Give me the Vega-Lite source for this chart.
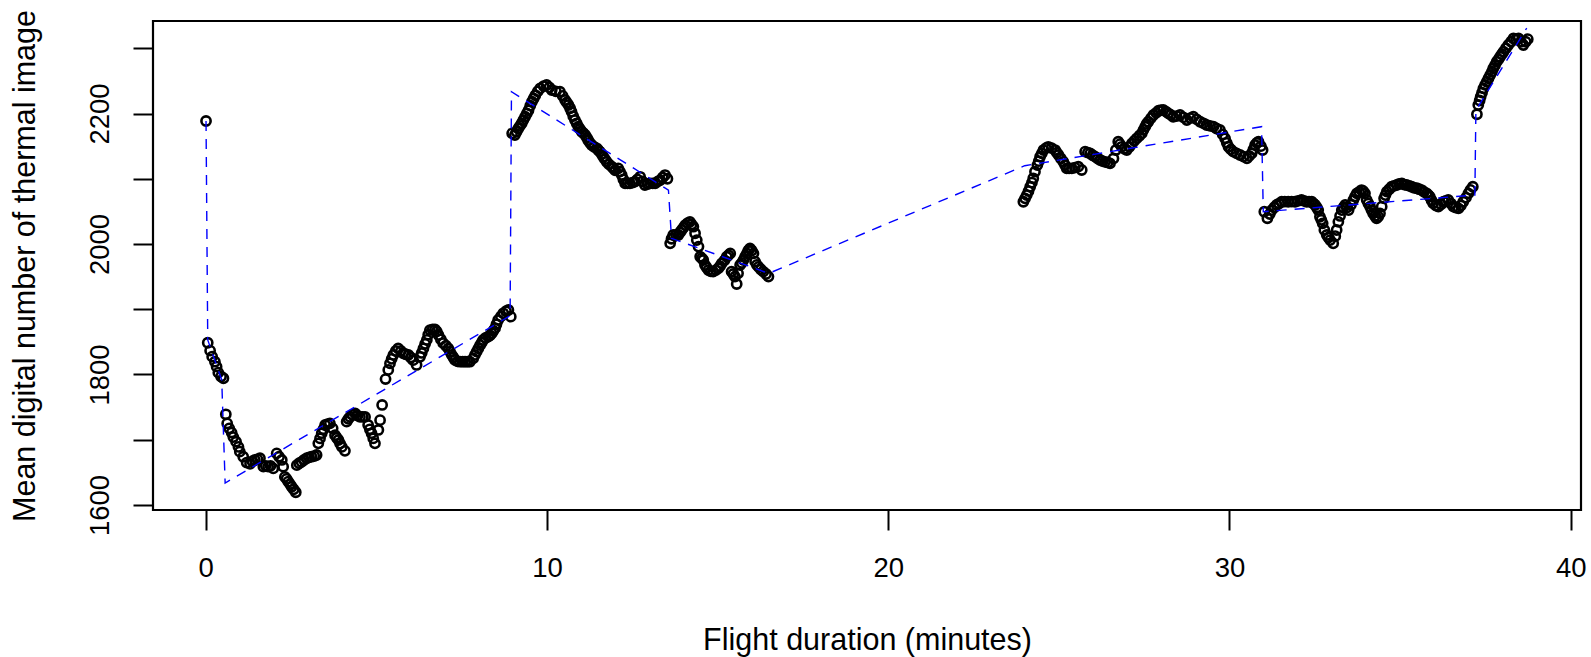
{
  "$schema": "https://vega.github.io/schema/vega-lite/v6.json",
  "autosize": {"type": "none"},
  "width": 1428,
  "height": 489,
  "padding": {"left": 153, "top": 21, "right": 10, "bottom": 147},
  "background": "white",
  "config": {
    "font": "Liberation Sans",
    "view": {"stroke": "black", "strokeWidth": 2.2},
    "axis": {"grid": false, "domain": false, "tickColor": "black", "tickWidth": 2, "tickSize": 20, "labelColor": "black", "titleColor": "black", "labelFont": "Liberation Sans", "titleFont": "Liberation Sans", "labelFontSize": 27.5, "titleFontSize": 30.5, "titleFontWeight": "normal"}
  },
  "datasets": {
    "pts": [
      {"x":0.01,"y":2188.5},{"x":0.06,"y":1848.7},{"x":0.13,"y":1836.5},{"x":0.19,"y":1827.3},{"x":0.27,"y":1819.6},{"x":0.32,"y":1812},{"x":0.37,"y":1802.8},{"x":0.45,"y":1797},{"x":0.52,"y":1794.2},
      {"x":0.59,"y":1739},{"x":0.63,"y":1725},{"x":0.69,"y":1717.5},{"x":0.76,"y":1711},{"x":0.81,"y":1704},{"x":0.89,"y":1697},{"x":0.96,"y":1689},{"x":1.0,"y":1681.7},{"x":1.1,"y":1674},{"x":1.2,"y":1665},{"x":1.3,"y":1663},{"x":1.37,"y":1667},{"x":1.44,"y":1669},{"x":1.52,"y":1670},{"x":1.59,"y":1671.6},{"x":1.69,"y":1658.7},{"x":1.76,"y":1660},{"x":1.83,"y":1658.7},{"x":1.9,"y":1660},{"x":1.98,"y":1656},{"x":2.08,"y":1679},{"x":2.15,"y":1674},{"x":2.23,"y":1669},{"x":2.27,"y":1658.7},{"x":2.32,"y":1643},{"x":2.37,"y":1640},{"x":2.42,"y":1635.7},{"x":2.47,"y":1632},{"x":2.52,"y":1628},{"x":2.58,"y":1624},{"x":2.64,"y":1619.5},
      {"x":2.67,"y":1661},{"x":2.74,"y":1664},{"x":2.81,"y":1666},{"x":2.88,"y":1669},{"x":2.96,"y":1671.6},{"x":3.03,"y":1673},{"x":3.1,"y":1674},{"x":3.18,"y":1675},{"x":3.25,"y":1676.6},{"x":3.3,"y":1694.5},{"x":3.35,"y":1702},{"x":3.4,"y":1710},{"x":3.45,"y":1716},{"x":3.5,"y":1722.6},{"x":3.57,"y":1724},{"x":3.64,"y":1725},{"x":3.72,"y":1717.5},{"x":3.79,"y":1707},{"x":3.84,"y":1703},{"x":3.89,"y":1699.6},{"x":3.94,"y":1694},{"x":3.99,"y":1689},{"x":4.08,"y":1683},{"x":4.13,"y":1727.7},{"x":4.18,"y":1732},{"x":4.23,"y":1735},{"x":4.3,"y":1738},{"x":4.38,"y":1740.5},{"x":4.45,"y":1737},{"x":4.52,"y":1735},{"x":4.6,"y":1735},{"x":4.67,"y":1735},{"x":4.76,"y":1722.6},{"x":4.81,"y":1716},{"x":4.86,"y":1710},{"x":4.91,"y":1702},{"x":4.96,"y":1694.5},{"x":5.06,"y":1715},{"x":5.11,"y":1730},{"x":5.17,"y":1753.3},
      {"x":5.27,"y":1793},{"x":5.35,"y":1807},{"x":5.4,"y":1817},{"x":5.45,"y":1824},{"x":5.5,"y":1830},{"x":5.57,"y":1836},{"x":5.64,"y":1840},{"x":5.72,"y":1836},{"x":5.79,"y":1832.5},{"x":5.86,"y":1831},{"x":5.94,"y":1830},{"x":6.01,"y":1826},{"x":6.08,"y":1822},{"x":6.18,"y":1814.6},{"x":6.28,"y":1827},{"x":6.33,"y":1833},{"x":6.38,"y":1840},{"x":6.43,"y":1847},{"x":6.48,"y":1853},{"x":6.52,"y":1861},{"x":6.57,"y":1868},{"x":6.65,"y":1869},{"x":6.72,"y":1869},{"x":6.77,"y":1866},{"x":6.82,"y":1860.5},{"x":6.89,"y":1854},{"x":6.96,"y":1848},{"x":7.04,"y":1844},{"x":7.11,"y":1840},{"x":7.16,"y":1835},{"x":7.21,"y":1830},{"x":7.26,"y":1826},{"x":7.31,"y":1822},{"x":7.38,"y":1820},{"x":7.45,"y":1819.6},{"x":7.53,"y":1819.6},{"x":7.6,"y":1819.6},{"x":7.67,"y":1819.6},{"x":7.74,"y":1819.6},{"x":7.84,"y":1824.8},{"x":7.89,"y":1830},{"x":7.94,"y":1835},{"x":7.99,"y":1840},{"x":8.04,"y":1845},{"x":8.09,"y":1849},{"x":8.13,"y":1853},{"x":8.2,"y":1856},{"x":8.28,"y":1858},{"x":8.33,"y":1860},{"x":8.38,"y":1863},{"x":8.43,"y":1867},{"x":8.48,"y":1871},{"x":8.52,"y":1877},{"x":8.57,"y":1883.5},{"x":8.65,"y":1889},{"x":8.72,"y":1893.8},{"x":8.8,"y":1897},{"x":8.87,"y":1898.9},{"x":8.94,"y":1888.6},
      {"x":8.98,"y":2169.6},{"x":9.06,"y":2167},{"x":9.11,"y":2172},{"x":9.16,"y":2177},{"x":9.21,"y":2181},{"x":9.26,"y":2185},{"x":9.31,"y":2190},{"x":9.36,"y":2195},{"x":9.41,"y":2200},{"x":9.46,"y":2205},{"x":9.51,"y":2212},{"x":9.56,"y":2218},{"x":9.61,"y":2223},{"x":9.66,"y":2228},{"x":9.73,"y":2234},{"x":9.8,"y":2238.6},{"x":9.9,"y":2242},{"x":9.99,"y":2243.7},{"x":10.07,"y":2240},{"x":10.14,"y":2236},{"x":10.26,"y":2234},{"x":10.38,"y":2233.4},{"x":10.46,"y":2227},{"x":10.53,"y":2220.7},{"x":10.58,"y":2217},{"x":10.63,"y":2213},{"x":10.68,"y":2208},{"x":10.72,"y":2202.8},{"x":10.77,"y":2196},{"x":10.82,"y":2190},{"x":10.87,"y":2185},{"x":10.92,"y":2179.8},{"x":10.97,"y":2176},{"x":11.02,"y":2172},{"x":11.07,"y":2170},{"x":11.12,"y":2167},{"x":11.17,"y":2163},{"x":11.21,"y":2159},{"x":11.26,"y":2155},{"x":11.31,"y":2151.7},{"x":11.38,"y":2149},{"x":11.46,"y":2146.7},{"x":11.5,"y":2144},{"x":11.55,"y":2141.5},{"x":11.6,"y":2138},{"x":11.65,"y":2133.8},{"x":11.7,"y":2130},{"x":11.75,"y":2126},{"x":11.82,"y":2122},{"x":11.9,"y":2118.5},{"x":11.95,"y":2116},{"x":12.0,"y":2113},{"x":12.09,"y":2116},{"x":12.14,"y":2111},{"x":12.19,"y":2105.7},{"x":12.24,"y":2099},{"x":12.29,"y":2093},{"x":12.36,"y":2093},{"x":12.43,"y":2093},{"x":12.51,"y":2094},{"x":12.58,"y":2095.5},{"x":12.65,"y":2099},{"x":12.73,"y":2103},{"x":12.8,"y":2096},{"x":12.87,"y":2090.4},{"x":12.95,"y":2092},{"x":13.02,"y":2093},{"x":13.1,"y":2093},{"x":13.17,"y":2093},{"x":13.25,"y":2096},{"x":13.32,"y":2098},{"x":13.39,"y":2102},{"x":13.46,"y":2105.7},{"x":13.53,"y":2100},
      {"x":13.61,"y":2001},{"x":13.65,"y":2008},{"x":13.7,"y":2013.8},{"x":13.78,"y":2014},{"x":13.85,"y":2013.8},{"x":13.9,"y":2018},{"x":13.95,"y":2021.5},{"x":14.0,"y":2025},{"x":14.05,"y":2029},{"x":14.12,"y":2032},{"x":14.19,"y":2034},{"x":14.24,"y":2030},{"x":14.29,"y":2026.5},{"x":14.34,"y":2016.4},{"x":14.39,"y":2006},{"x":14.44,"y":1996},{"x":14.49,"y":1980.5},{"x":14.54,"y":1978},{"x":14.58,"y":1975.5},{"x":14.63,"y":1967.8},{"x":14.68,"y":1964},{"x":14.73,"y":1960},{"x":14.8,"y":1958},{"x":14.87,"y":1957.6},{"x":14.95,"y":1960},{"x":15.02,"y":1962.7},{"x":15.07,"y":1966},{"x":15.12,"y":1970.4},{"x":15.2,"y":1975},{"x":15.27,"y":1980.5},{"x":15.32,"y":1983},{"x":15.37,"y":1985.7},{"x":15.41,"y":1957.6},{"x":15.46,"y":1954},{"x":15.51,"y":1950},{"x":15.56,"y":1938.7},{"x":15.6,"y":1955},{"x":15.66,"y":1967.8},{"x":15.71,"y":1971},{"x":15.76,"y":1975.5},{"x":15.81,"y":1981},{"x":15.86,"y":1985.7},{"x":15.9,"y":1990},{"x":15.95,"y":1993.3},{"x":16.0,"y":1990},{"x":16.05,"y":1985.7},{"x":16.1,"y":1973},{"x":16.15,"y":1968},{"x":16.2,"y":1965},{"x":16.27,"y":1961},{"x":16.34,"y":1957.6},{"x":16.42,"y":1954},{"x":16.49,"y":1950},
      {"x":23.96,"y":2064.8},{"x":24.01,"y":2070},{"x":24.06,"y":2075},{"x":24.11,"y":2081},{"x":24.16,"y":2087.8},{"x":24.21,"y":2094},{"x":24.25,"y":2100.7},{"x":24.3,"y":2110.8},{"x":24.37,"y":2121},{"x":24.41,"y":2127},{"x":24.45,"y":2133.8},{"x":24.5,"y":2139},{"x":24.55,"y":2144},{"x":24.62,"y":2147},{"x":24.69,"y":2149},{"x":24.79,"y":2147},{"x":24.89,"y":2144},{"x":24.94,"y":2140},{"x":24.99,"y":2136.4},{"x":25.06,"y":2131},{"x":25.13,"y":2126},{"x":25.18,"y":2121},{"x":25.23,"y":2116},{"x":25.3,"y":2116},{"x":25.38,"y":2116},{"x":25.47,"y":2117},{"x":25.57,"y":2118.5},{"x":25.67,"y":2113.4},{"x":25.77,"y":2141.5},{"x":25.85,"y":2140},{"x":25.92,"y":2139},{"x":25.99,"y":2136},{"x":26.06,"y":2134},{"x":26.14,"y":2131},{"x":26.21,"y":2128.7},{"x":26.28,"y":2127},{"x":26.35,"y":2126},{"x":26.43,"y":2125},{"x":26.5,"y":2123.6},{"x":26.6,"y":2131},{"x":26.67,"y":2144},{"x":26.74,"y":2156.8},{"x":26.79,"y":2153},{"x":26.84,"y":2149},{"x":26.92,"y":2146},{"x":26.99,"y":2144},{"x":27.07,"y":2149},{"x":27.14,"y":2154},{"x":27.21,"y":2158},{"x":27.28,"y":2162},{"x":27.36,"y":2166},{"x":27.43,"y":2169.6},{"x":27.48,"y":2175},{"x":27.53,"y":2179.8},{"x":27.57,"y":2184},{"x":27.62,"y":2187.4},{"x":27.7,"y":2193},{"x":27.77,"y":2197.7},{"x":27.85,"y":2201},{"x":27.92,"y":2204.3},{"x":27.99,"y":2205},{"x":28.06,"y":2205.4},{"x":28.14,"y":2203},{"x":28.21,"y":2200.3},{"x":28.28,"y":2198},{"x":28.35,"y":2195},{"x":28.45,"y":2196},{"x":28.55,"y":2197.7},{"x":28.65,"y":2194},{"x":28.75,"y":2190},{"x":28.85,"y":2193},{"x":28.94,"y":2195},{"x":29.04,"y":2191},{"x":29.14,"y":2187.4},{"x":29.24,"y":2185},{"x":29.33,"y":2182.4},{"x":29.43,"y":2181},{"x":29.53,"y":2179.8},{"x":29.62,"y":2177},{"x":29.72,"y":2174.7},{"x":29.8,"y":2168},{"x":29.87,"y":2162},{"x":29.92,"y":2155},{"x":29.97,"y":2149},{"x":30.04,"y":2145},{"x":30.11,"y":2141.5},{"x":30.21,"y":2139},{"x":30.31,"y":2136.4},{"x":30.41,"y":2134},{"x":30.51,"y":2131.3},{"x":30.58,"y":2135},{"x":30.65,"y":2139},{"x":30.7,"y":2145},{"x":30.75,"y":2151.7},{"x":30.8,"y":2155},{"x":30.85,"y":2156.8},{"x":30.92,"y":2150},{"x":30.97,"y":2144},
      {"x":31.02,"y":2049.5},{"x":31.11,"y":2039.4},{"x":31.18,"y":2046},{"x":31.24,"y":2052},{"x":31.31,"y":2056},{"x":31.38,"y":2059.8},{"x":31.45,"y":2062},{"x":31.53,"y":2064.8},{"x":31.62,"y":2065},{"x":31.72,"y":2064.8},{"x":31.82,"y":2065},{"x":31.92,"y":2064.8},{"x":32.01,"y":2066},{"x":32.11,"y":2067.4},{"x":32.18,"y":2066},{"x":32.26,"y":2064.8},{"x":32.33,"y":2065},{"x":32.41,"y":2064.8},{"x":32.46,"y":2062},{"x":32.51,"y":2059.8},{"x":32.56,"y":2056},{"x":32.6,"y":2052},{"x":32.65,"y":2041.8},{"x":32.69,"y":2037},{"x":32.73,"y":2031.7},{"x":32.78,"y":2021.5},{"x":32.85,"y":2013.8},{"x":32.9,"y":2010},{"x":32.95,"y":2006},{"x":33.04,"y":2001},{"x":33.1,"y":2012},{"x":33.14,"y":2021.5},{"x":33.19,"y":2034},{"x":33.24,"y":2043},{"x":33.29,"y":2052},{"x":33.34,"y":2056},{"x":33.39,"y":2059.8},{"x":33.44,"y":2056},{"x":33.49,"y":2052},{"x":33.56,"y":2060},{"x":33.63,"y":2067.4},{"x":33.68,"y":2073},{"x":33.73,"y":2077.7},{"x":33.8,"y":2080},{"x":33.87,"y":2082.7},{"x":33.92,"y":2081},{"x":33.97,"y":2077.7},{"x":34.02,"y":2067.4},{"x":34.07,"y":2062},{"x":34.12,"y":2057.2},{"x":34.16,"y":2052},{"x":34.21,"y":2047},{"x":34.26,"y":2043},{"x":34.31,"y":2039.4},{"x":34.36,"y":2042},{"x":34.41,"y":2047},{"x":34.46,"y":2057.2},{"x":34.53,"y":2070},{"x":34.57,"y":2075},{"x":34.61,"y":2080.2},{"x":34.68,"y":2084},{"x":34.75,"y":2087.8},{"x":34.82,"y":2089},{"x":34.9,"y":2090.4},{"x":34.97,"y":2092},{"x":35.05,"y":2093},{"x":35.12,"y":2091},{"x":35.19,"y":2090.4},{"x":35.27,"y":2089},{"x":35.34,"y":2087.8},{"x":35.41,"y":2086},{"x":35.49,"y":2085.4},{"x":35.56,"y":2084},{"x":35.63,"y":2082.7},{"x":35.7,"y":2080},{"x":35.78,"y":2077.7},{"x":35.83,"y":2075},{"x":35.87,"y":2072.5},{"x":35.92,"y":2067},{"x":35.97,"y":2062.4},{"x":36.05,"y":2059},{"x":36.12,"y":2057.2},{"x":36.2,"y":2061},{"x":36.27,"y":2064.8},{"x":36.34,"y":2066},{"x":36.41,"y":2067.4},{"x":36.49,"y":2062},{"x":36.56,"y":2057.2},{"x":36.63,"y":2056},{"x":36.71,"y":2054.7},{"x":36.78,"y":2059},{"x":36.85,"y":2064.8},{"x":36.93,"y":2071},{"x":37.0,"y":2077.7},{"x":37.06,"y":2083},{"x":37.13,"y":2087.8},
      {"x":37.25,"y":2198.8},{"x":37.29,"y":2213},{"x":37.33,"y":2220},{"x":37.36,"y":2225.8},{"x":37.4,"y":2232},{"x":37.44,"y":2238.6},{"x":37.49,"y":2244},{"x":37.54,"y":2248.7},{"x":37.59,"y":2254},{"x":37.64,"y":2259},{"x":37.69,"y":2264},{"x":37.73,"y":2269.3},{"x":37.78,"y":2274},{"x":37.83,"y":2279.4},{"x":37.88,"y":2283},{"x":37.93,"y":2287},{"x":37.98,"y":2291},{"x":38.03,"y":2294.7},{"x":38.1,"y":2300},{"x":38.17,"y":2305},{"x":38.25,"y":2310},{"x":38.32,"y":2315},{"x":38.4,"y":2314},{"x":38.47,"y":2315},{"x":38.54,"y":2310},{"x":38.61,"y":2305},{"x":38.68,"y":2310},{"x":38.74,"y":2314}
    ],
    "fit": [
      {"o":1,"x":0.01,"y":2188.5},{"o":2,"x":0.06,"y":1852.9},{"o":3,"x":0.47,"y":1791.6},{"o":4,"x":0.57,"y":1633.7},{"o":5,"x":8.92,"y":1890},{"o":6,"x":8.96,"y":2233.4},{"o":7,"x":13.56,"y":2082.7},{"o":8,"x":13.65,"y":2008.7},{"o":9,"x":16.5,"y":1955},{"o":10,"x":24.0,"y":2120},{"o":11,"x":30.94,"y":2179.8},{"o":12,"x":30.99,"y":2049.5},{"o":13,"x":37.19,"y":2075},{"o":14,"x":37.22,"y":2205},{"o":15,"x":38.71,"y":2331}
    ]
  },
  "layer": [
    {
      "data": {"name": "pts"},
      "mark": {"type": "point", "shape": "circle", "filled": false, "stroke": "black", "strokeWidth": 2.6, "size": 85, "opacity": 1},
      "encoding": {
        "x": {"field": "x", "type": "quantitative", "scale": {"domain": [-1.544, 40.30], "nice": false, "zero": false},
              "axis": {"values": [0, 10, 20, 30, 40], "title": "Flight duration (minutes)", "labelPadding": 24, "titleY": 139, "titleBaseline": "alphabetic"}},
        "y": {"field": "y", "type": "quantitative", "scale": {"domain": [1592.3, 2341.8], "nice": false, "zero": false},
              "axis": {"values": [1600, 1700, 1800, 1900, 2000, 2100, 2200, 2300], "labelExpr": "datum.value % 200 == 0 ? datum.label : ''", "format": "d", "labelAngle": -90, "labelAlign": "center", "labelBaseline": "alphabetic", "labelPadding": 25, "labelOverlap": false, "title": "Mean digital number of thermal image", "titleAngle": -90, "titleBaseline": "alphabetic", "titleX": -119}}
      }
    },
    {
      "data": {"name": "fit"},
      "mark": {"type": "line", "color": "#0000FF", "strokeWidth": 1.4, "strokeDash": [10, 8]},
      "encoding": {
        "x": {"field": "x", "type": "quantitative"},
        "y": {"field": "y", "type": "quantitative"},
        "order": {"field": "o", "type": "quantitative"}
      }
    }
  ]
}
